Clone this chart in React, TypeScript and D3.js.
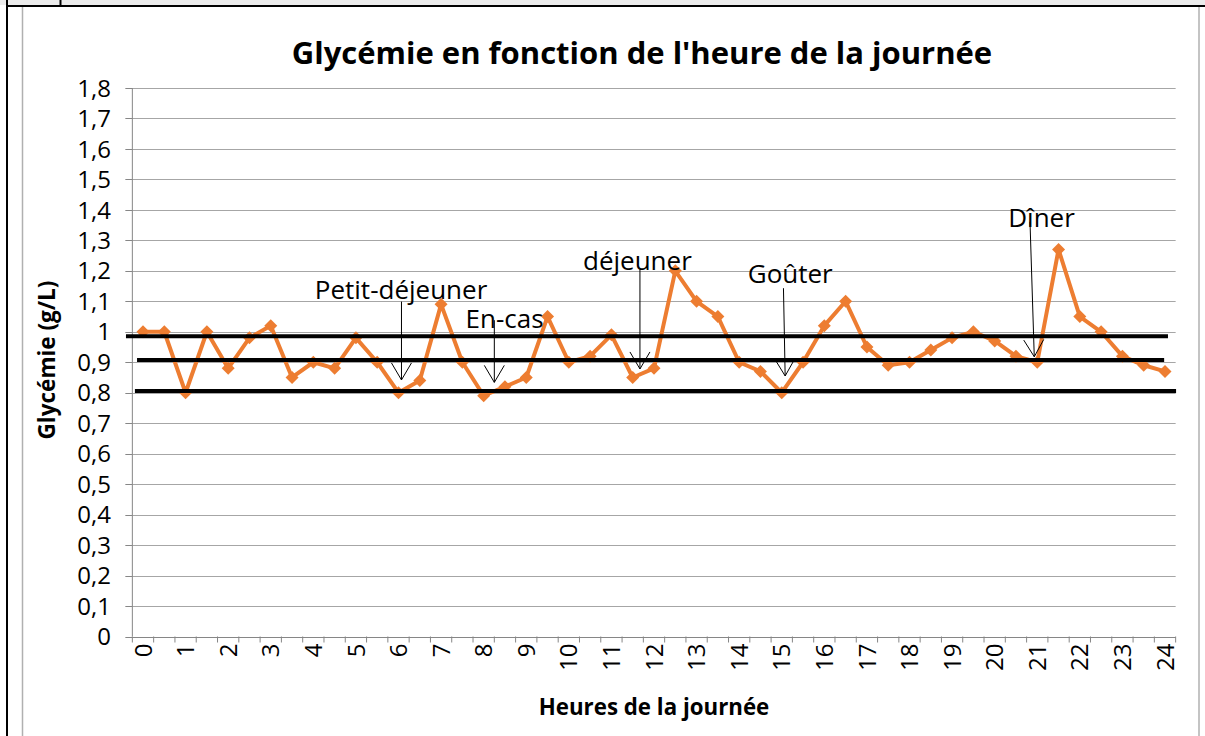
import React from 'react';
import * as d3 from 'd3';

// ---- data ----
const HOURS = [
  0, 0.5, 1, 1.5, 2, 2.5, 3, 3.5, 4, 4.5, 5, 5.5, 6, 6.5, 7, 7.5, 8, 8.5, 9, 9.5,
  10, 10.5, 11, 11.5, 12, 12.5, 13, 13.5, 14, 14.5, 15, 15.5, 16, 16.5, 17, 17.5,
  18, 18.5, 19, 19.5, 20, 20.5, 21, 21.5, 22, 22.5, 23, 23.5, 24,
];
const GLYCEMIA = [
  1.0, 1.0, 0.8, 1.0, 0.88, 0.98, 1.02, 0.85, 0.9, 0.88, 0.98, 0.9, 0.8, 0.84, 1.09, 0.9,
  0.79, 0.82, 0.85, 1.05, 0.9, 0.92, 0.99, 0.85, 0.88, 1.2, 1.1, 1.05, 0.9, 0.87, 0.8, 0.9,
  1.02, 1.1, 0.95, 0.89, 0.9, 0.94, 0.98, 1.0, 0.97, 0.92, 0.9, 1.27, 1.05, 1.0, 0.92, 0.89,
  0.87,
];
const Y_TICKS = [0, 0.1, 0.2, 0.3, 0.4, 0.5, 0.6, 0.7, 0.8, 0.9, 1, 1.1, 1.2, 1.3, 1.4, 1.5, 1.6, 1.7, 1.8];
const X_TICK_HOURS = [0, 1, 2, 3, 4, 5, 6, 7, 8, 9, 10, 11, 12, 13, 14, 15, 16, 17, 18, 19, 20, 21, 22, 23, 24];

// hand-drawn horizontal reference lines (value, start hour, end hour)
const THRESHOLD_VALUES = [0.985, 0.907, 0.806];
const THRESHOLD_FROM = [-0.4, -0.14, -0.19];
const THRESHOLD_TO = [24.07, 23.98, 24.26];

// meal annotations
const ANNOT_LABELS = ['Petit-déjeuner', 'En-cas', 'déjeuner', 'Goûter', 'Dîner'];
const ANNOT_TEXT_HOUR = [6.06, 8.49, 11.61, 15.2, 21.1];
const ANNOT_TEXT_VALUE = [1.108, 1.012, 1.203, 1.159, 1.343];
const ARROW_FROM_HOUR = [6.07, 8.25, 11.67, 15.04, 20.83];
const ARROW_FROM_VALUE = [1.099, 1.038, 1.205, 1.143, 1.361];
const ARROW_TO_HOUR = [6.07, 8.25, 11.67, 15.08, 20.93];
const ARROW_TO_VALUE = [0.842, 0.834, 0.878, 0.855, 0.918];

const TITLE = "Glycémie en fonction de l'heure de la journée";
const X_TITLE = 'Heures de la journée';
const Y_TITLE = 'Glycémie (g/L)';

const W = 1205;
const H = 736;
const FONT = '"Open Sans", "Noto Sans", sans-serif';
const ORANGE = '#ED7D31';
const GRID = '#a6a6a6';

export default function App() {
  const x = d3.scaleLinear().domain([0, 24]).range([143, 1165]);
  const y = d3.scaleLinear().domain([0, 1.8]).range([636.5, 88]);
  const halfStep = (x(0.5) - x(0)) / 2;
  const left = x(0) - halfStep;
  const right = x(24) + halfStep;

  const line = d3
    .line<number>()
    .x((_, i) => x(HOURS[i]))
    .y((d) => y(d));

  const edgeTicks = HOURS.map((h) => x(h) - halfStep).concat([right]);

  const diamond = (cx: number, cy: number, r: number) =>
    `M${cx},${cy - r}L${cx + r},${cy}L${cx},${cy + r}L${cx - r},${cy}Z`;

  const arrows = ANNOT_LABELS.map((_, i) => {
    const x0 = x(ARROW_FROM_HOUR[i]);
    const y0 = y(ARROW_FROM_VALUE[i]);
    const x1 = x(ARROW_TO_HOUR[i]);
    const y1 = y(ARROW_TO_VALUE[i]);
    const len = Math.hypot(x1 - x0, y1 - y0);
    const ux = (x1 - x0) / len;
    const uy = (y1 - y0) / len;
    const px = -uy;
    const py = ux;
    const back = 17;
    const wing = 10;
    const head = `M${x1 - ux * back + px * wing},${y1 - uy * back + py * wing}L${x1},${y1}L${x1 - ux * back - px * wing},${y1 - uy * back - py * wing}`;
    return { x0, y0, x1, y1, head };
  });

  return (
    <svg
      width={W}
      height={H}
      viewBox={`0 0 ${W} ${H}`}
      style={{ position: 'absolute', left: 0, top: 0, background: '#fff' }}
      fontFamily={FONT}
    >
      {/* page frame */}
      <rect x={0} y={0} width={W} height={5} fill="#ebebeb" />
      <line x1={60.5} x2={60.5} y1={0} y2={6} stroke="#000" strokeWidth={2} />
      <line x1={6} x2={W} y1={6} y2={6} stroke="#000" strokeWidth={2} />
      <line x1={7} x2={7} y1={0} y2={H} stroke="#000" strokeWidth={2} />
      {/* chart area border */}
      <line x1={22.5} x2={22.5} y1={7} y2={H} stroke="#b0b0b0" strokeWidth={1.5} />
      <line x1={1199} x2={1199} y1={7} y2={H} stroke="#b0b0b0" strokeWidth={1.5} />

      {/* title */}
      <text x={642} y={64} textAnchor="middle" fontSize={31} fontWeight={700} fill="#000">
        {TITLE}
      </text>

      {/* gridlines */}
      {Y_TICKS.map((t) => (
        <line key={`g${t}`} x1={left} x2={right} y1={Math.round(y(t)) + 0.5} y2={Math.round(y(t)) + 0.5} stroke={GRID} strokeWidth={1} />
      ))}
      {/* y axis */}
      <line x1={left} x2={left} y1={y(1.8)} y2={y(0)} stroke="#868686" strokeWidth={1} />
      {Y_TICKS.map((t) => (
        <line key={`yt${t}`} x1={left - 7} x2={left} y1={Math.round(y(t)) + 0.5} y2={Math.round(y(t)) + 0.5} stroke="#868686" strokeWidth={1} />
      ))}
      {Y_TICKS.map((t) => (
        <text key={`yl${t}`} x={111} y={y(t)} dy="0.36em" textAnchor="end" fontSize={24} fill="#000">
          {String(Math.round(t * 10) / 10).replace('.', ',')}
        </text>
      ))}
      {/* x axis */}
      <line x1={left} x2={right} y1={Math.round(y(0)) + 0.5} y2={Math.round(y(0)) + 0.5} stroke="#868686" strokeWidth={1} />
      {edgeTicks.map((tx, i) => (
        <line key={`xt${i}`} x1={tx} x2={tx} y1={y(0)} y2={y(0) + 6} stroke="#868686" strokeWidth={1} />
      ))}
      {X_TICK_HOURS.map((h) => (
        <text
          key={`xl${h}`}
          transform={`translate(${x(h)},${y(0) + 7}) rotate(-90)`}
          dy="0.36em"
          textAnchor="end"
          fontSize={24}
          fill="#000"
        >
          {h}
        </text>
      ))}

      {/* axis titles */}
      <text x={654} y={715} textAnchor="middle" fontSize={22.3} fontWeight={700} fill="#000">
        {X_TITLE}
      </text>
      <text transform={`translate(55,360) rotate(-90)`} textAnchor="middle" fontSize={22.5} fontWeight={700} fill="#000">
        {Y_TITLE}
      </text>

      {/* series */}
      <path d={line(GLYCEMIA) || ''} fill="none" stroke={ORANGE} strokeWidth={4} strokeLinejoin="round" />
      {GLYCEMIA.map((v, i) => (
        <path key={`m${i}`} d={diamond(x(HOURS[i]), y(v), 6.5)} fill={ORANGE} />
      ))}

      {/* reference lines */}
      {THRESHOLD_VALUES.map((v, i) => (
        <line key={`th${i}`} x1={x(THRESHOLD_FROM[i])} x2={x(THRESHOLD_TO[i])} y1={y(v)} y2={y(v)} stroke="#000" strokeWidth={4} />
      ))}

      {/* annotations */}
      {arrows.map((a, i) => (
        <g key={`a${i}`}>
          <line x1={a.x0} y1={a.y0} x2={a.x1} y2={a.y1} stroke="#000" strokeWidth={1} />
          <path d={a.head} fill="none" stroke="#000" strokeWidth={1} />
        </g>
      ))}
      {ANNOT_LABELS.map((lab, i) => (
        <text key={`al${i}`} x={x(ANNOT_TEXT_HOUR[i])} y={y(ANNOT_TEXT_VALUE[i])} textAnchor="middle" fontSize={26} fill="#000">
          {lab}
        </text>
      ))}
    </svg>
  );
}
